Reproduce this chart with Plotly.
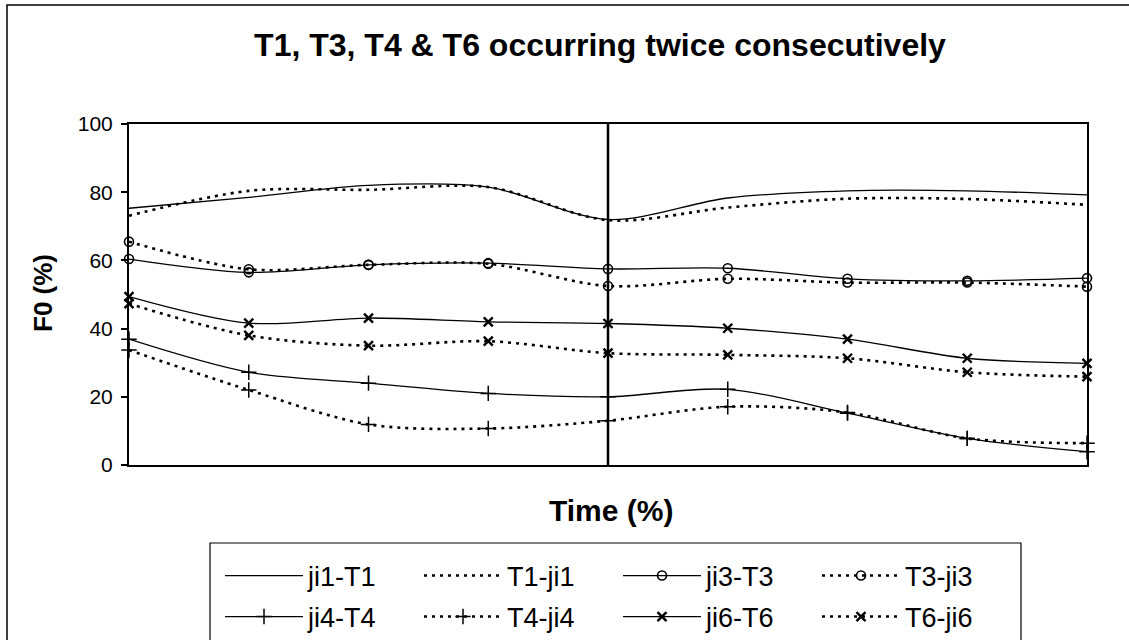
import plotly.graph_objects as go

# ---- data ----
time_idx = [0, 1, 2, 3, 4, 5, 6, 7, 8]

ji1_T1 = [75.3, 78.5, 82.0, 81.5, 72.0, 78.3, 80.4, 80.4, 79.2]
T1_ji1 = [73.1, 80.4, 80.7, 81.5, 71.8, 75.5, 78.1, 78.0, 76.3]
ji3_T3 = [60.4, 56.5, 58.7, 59.2, 57.5, 57.7, 54.6, 54.0, 54.8]
T3_ji3 = [65.5, 57.4, 58.7, 59.0, 52.5, 54.6, 53.5, 53.5, 52.3]
ji4_T4 = [36.9, 27.2, 24.0, 21.0, 20.0, 22.2, 15.2, 7.8, 3.9]
T4_ji4 = [33.7, 22.0, 11.9, 10.7, 13.0, 17.1, 15.4, 7.8, 6.4]
ji6_T6 = [49.4, 41.6, 43.1, 42.0, 41.5, 40.1, 36.9, 31.3, 29.8]
T6_ji6 = [47.3, 38.0, 35.0, 36.3, 32.8, 32.3, 31.3, 27.2, 25.9]

y_ticks = [0, 20, 40, 60, 80, 100]

title_text = "T1, T3, T4 &amp; T6 occurring twice consecutively"
x_title = "Time (%)"
y_title = "F0 (%)"

FONT = "Liberation Sans, Arial, sans-serif"
DOT = "3px,5px"

series = [
    ("ji1-T1", ji1_T1, "solid", None, "legend"),
    ("T1-ji1", T1_ji1, DOT, None, "legend"),
    ("ji3-T3", ji3_T3, "solid", "circle-open", "legend"),
    ("T3-ji3", T3_ji3, DOT, "circle-open", "legend"),
    ("ji4-T4", ji4_T4, "solid", "cross-thin-open", "legend2"),
    ("T4-ji4", T4_ji4, DOT, "cross-thin-open", "legend2"),
    ("ji6-T6", ji6_T6, "solid", "x-thin-open", "legend2"),
    ("T6-ji6", T6_ji6, DOT, "x-thin-open", "legend2"),
]

fig = go.Figure()
for name, vals, dash, sym, leg in series:
    lw = 1.3 if dash == "solid" else 2.6
    mode = "lines" if sym is None else "lines+markers"
    marker = {}
    if sym is not None:
        if sym == "circle-open":
            marker = dict(symbol=sym, size=9, color="black", line=dict(width=1.6, color="black"))
        elif sym == "x-thin-open":
            marker = dict(symbol=sym, size=9, color="black", line=dict(width=2.4, color="black"))
        else:
            marker = dict(symbol=sym, size=11, color="black", line=dict(width=1.5, color="black"))
    fig.add_trace(go.Scatter(
        x=time_idx, y=vals, name=name, mode=mode,
        line=dict(color="black", width=lw, dash=dash, shape="spline", smoothing=0.9),
        marker=marker, legend=leg, cliponaxis=False,
    ))

W, H = 1129, 640
L, R, T, B = 129, 1129 - 1087, 124, 640 - 465
pw, ph = W - L - R, H - T - B

def px_x(px):
    return (px - L) / pw

def px_y(py):
    return (H - B - py) / ph

ITEMW = 78
legend_common = dict(
    orientation="h", xanchor="left", yanchor="middle",
    font=dict(family=FONT, size=27, color="black"),
    bgcolor="rgba(0,0,0,0)", borderwidth=0,
    itemwidth=ITEMW, entrywidth=106, entrywidthmode="pixels",
    itemclick=False, itemdoubleclick=False,
)

fig.update_layout(
    width=W, height=H, autosize=False,
    margin=dict(l=L, r=R, t=T, b=B, pad=0, autoexpand=False),
    paper_bgcolor="white", plot_bgcolor="white",
    font=dict(family=FONT, color="black"),
    title=dict(text="<b>" + title_text + "</b>", x=px_x(600), xref="paper", xanchor="center",
               y=1 - 45 / H, yanchor="middle",
               font=dict(family=FONT, size=32, color="black")),
    xaxis=dict(range=[0, 8], showgrid=False, zeroline=False, showticklabels=False,
               ticks="", showline=True, linecolor="black", linewidth=2, mirror=True),
    yaxis=dict(range=[0, 100], tickvals=y_ticks, showgrid=False, zeroline=False,
               ticks="outside", ticklen=6, tickwidth=1.5, tickcolor="black",
               ticklabelstandoff=4,
               tickfont=dict(family=FONT, size=21, color="black"),
               showline=True, linecolor="black", linewidth=2, mirror=True),
    legend=dict(x=px_x(220), y=px_y(576), **legend_common),
    legend2=dict(x=px_x(220), y=px_y(617), **legend_common),
    showlegend=True,
)

# axis titles
fig.add_annotation(text="<b>" + x_title + "</b>", xref="paper", yref="paper",
                   x=px_x(611), y=px_y(511), xanchor="center", yanchor="middle",
                   showarrow=False, font=dict(family=FONT, size=30, color="black"))
fig.add_annotation(text="<b>" + y_title + "</b>", xref="paper", yref="paper",
                   x=px_x(43), y=px_y(293), xanchor="center", yanchor="middle",
                   textangle=-90, showarrow=False, font=dict(family=FONT, size=26, color="black"))

# vertical divider at the middle point
fig.add_shape(type="line", xref="x", yref="y", x0=4, x1=4, y0=0, y1=100,
              line=dict(color="black", width=2.5))
# legend box
fig.add_shape(type="rect", xref="paper", yref="paper",
              x0=px_x(210), x1=px_x(1021), y0=px_y(700), y1=px_y(543),
              line=dict(color="black", width=1.2), layer="below")
# outer chart frame
fig.add_shape(type="rect", xref="paper", yref="paper",
              x0=px_x(7), x1=px_x(1140), y0=px_y(700), y1=px_y(5),
              line=dict(color="black", width=1.5), layer="below")

fig.write_html("out.html", config={"displayModeBar": False},
               post_script="document.body.style.margin='0px';")
